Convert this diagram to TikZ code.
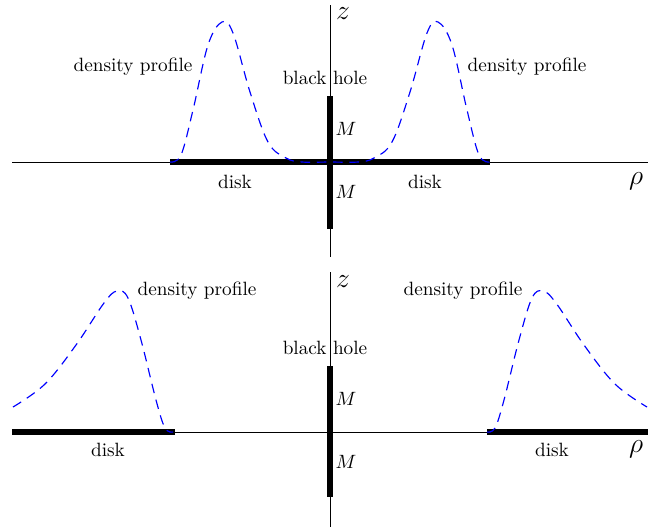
\documentclass[tikz,border=0pt]{standalone}
\usepackage{amsmath, amssymb}
\usepackage{tikz}
\usetikzlibrary{positioning}

\begin{document}
\begin{tikzpicture}[x=0.52pt, y=-0.52pt, every node/.style={font=\normalsize},
  axis/.style={thin},
  bar/.style={line width=3pt},
  axislabel/.style={font=\Large, inner sep=0pt},
  profile/.style={blue, line width=0.6pt, dash pattern=on 5pt off 3.5pt}]
  \useasboundingbox (0,0) rectangle (665,527);
  % upper panel
  \coordinate (uleft) at (12,162);
  \coordinate (uright) at (648,162);
  \coordinate (utop) at (330,5);
  \coordinate (ubot) at (330,257);
  \draw[axis] (uleft) -- (uright);
  \draw[axis] (utop) -- (ubot);
  \coordinate (udiskl) at (170,162);
  \coordinate (udiskr) at (490,162);
  \draw[bar] (udiskl) -- (udiskr);
  \coordinate (uholet) at (330,96);
  \coordinate (uholeb) at (330,229);
  \draw[bar] (uholet) -- (uholeb);
  \draw[profile] plot[smooth, tension=0.6] coordinates {(170,162) (181,155) (193,110) (208,45) (222,22) (233,33) (250,92) (268,142) (286,158) (302,162) (330,162) (358,162) (374,158) (392,142) (410,92) (427,33) (438,22) (452,45) (467,110) (479,155) (490,162)};
  \node[axislabel] (uz) at (343,14) {$z$};
  \node[axislabel] (urho) at (636,181) {$\rho$};
  \node (uhole) at (325,78) {black hole};
  \node (uMa) at (346,129) {$M$};
  \node (uMb) at (346,192) {$M$};
  \node (udisk1) at (235,182) {disk};
  \node (udisk2) at (425,182) {disk};
  \node (uprof1) at (133,67) {density profile};
  \node (uprof2) at (527,67) {density profile};
  % lower panel
  \coordinate (lleft) at (12,432);
  \coordinate (lright) at (648,432);
  \coordinate (ltop) at (330,272);
  \coordinate (lbot) at (330,527);
  \draw[axis] (lleft) -- (lright);
  \draw[axis] (ltop) -- (lbot);
  \coordinate (ldiska) at (175,432);
  \coordinate (ldiskb) at (487,432);
  \draw[bar] (lleft) -- (ldiska);
  \draw[bar] (ldiskb) -- (lright);
  \coordinate (lholet) at (330,366);
  \coordinate (lholeb) at (330,497);
  \draw[bar] (lholet) -- (lholeb);
  \draw[profile] plot[smooth, tension=0.6] coordinates {(13,407) (45,384) (76,345) (104,303) (117,291) (128,298) (141,340) (156,400) (165,428) (173,432)};
  \draw[profile] plot[smooth, tension=0.6] coordinates {(487,432) (495,428) (504,400) (519,340) (532,298) (543,291) (556,303) (584,345) (615,384) (647,407)};
  \node[axislabel] (lz) at (343,282) {$z$};
  \node[axislabel] (lrho) at (636,449) {$\rho$};
  \node (lhole) at (325,348) {black hole};
  \node (lMa) at (346,399) {$M$};
  \node (lMb) at (346,462) {$M$};
  \node (ldisk1) at (108,450) {disk};
  \node (ldisk2) at (552,450) {disk};
  \node (lprof1) at (197,291) {density profile};
  \node (lprof2) at (463,291) {density profile};
\end{tikzpicture}
\end{document}
